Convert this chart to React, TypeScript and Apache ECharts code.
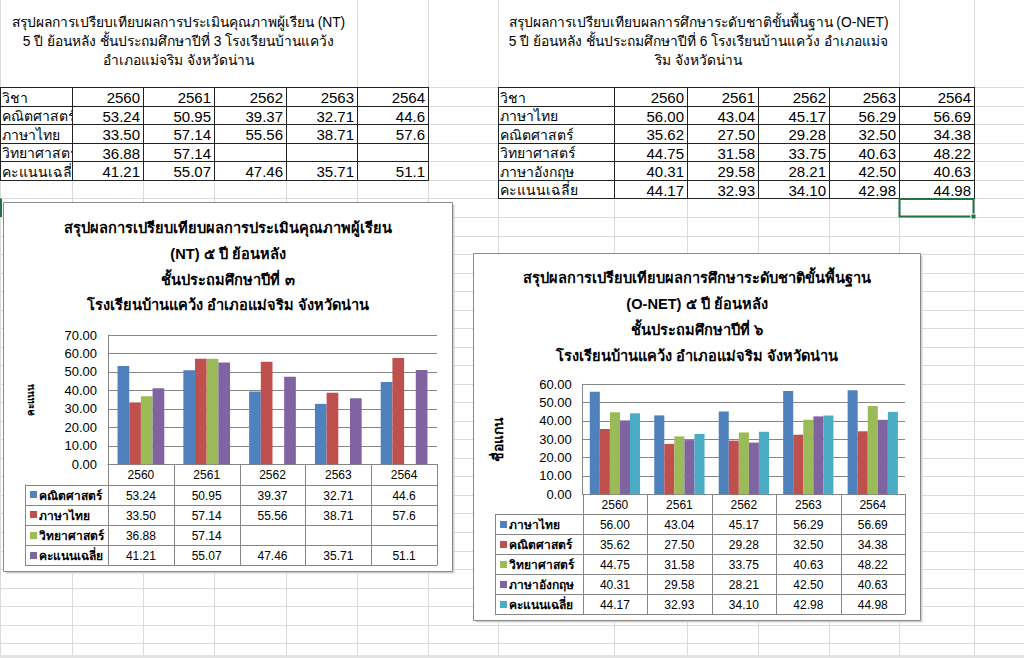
import React, { useEffect, useRef } from 'react';
import * as echarts from 'echarts';

// ---------- DATA ----------
const years = ['2560', '2561', '2562', '2563', '2564'];
const headerLabel = 'วิชา';

const ntSubjects = ['คณิตศาสตร์', 'ภาษาไทย', 'วิทยาศาสตร์', 'คะแนนเฉลี่ย'];
const ntMath = [53.24, 50.95, 39.37, 32.71, 44.6];
const ntThai = [33.5, 57.14, 55.56, 38.71, 57.6];
const ntSci = [36.88, 57.14, null, null, null];
const ntAvg = [41.21, 55.07, 47.46, 35.71, 51.1];
const ntDecimals = [2, 2, 2, 2, 1];
const ntYMax = 70;

const onetSubjects = ['ภาษาไทย', 'คณิตศาสตร์', 'วิทยาศาสตร์', 'ภาษาอังกฤษ', 'คะแนนเฉลี่ย'];
const onetThai = [56.0, 43.04, 45.17, 56.29, 56.69];
const onetMath = [35.62, 27.5, 29.28, 32.5, 34.38];
const onetSci = [44.75, 31.58, 33.75, 40.63, 48.22];
const onetEng = [40.31, 29.58, 28.21, 42.5, 40.63];
const onetAvg = [44.17, 32.93, 34.1, 42.98, 44.98];
const onetDecimals = [2, 2, 2, 2, 2];
const onetYMax = 60;
const yInterval = 10;

const sheetTitleNT = [
  'สรุปผลการเปรียบเทียบผลการประเมินคุณภาพผู้เรียน (NT)',
  '5 ปี ย้อนหลัง ชั้นประถมศึกษาปีที่ 3 โรงเรียนบ้านแคว้ง',
  'อำเภอแม่จริม จังหวัดน่าน',
];
const sheetTitleONET = [
  'สรุปผลการเปรียบเทียบผลการศึกษาระดับชาติขั้นพื้นฐาน (O-NET)',
  '5 ปี ย้อนหลัง ชั้นประถมศึกษาปีที่ 6 โรงเรียนบ้านแคว้ง อำเภอแม่จ',
  'ริม จังหวัดน่าน',
];
const chartTitleNT = [
  'สรุปผลการเปรียบเทียบผลการประเมินคุณภาพผู้เรียน',
  '(NT) ๕ ปี ย้อนหลัง',
  'ชั้นประถมศึกษาปีที่ ๓',
  'โรงเรียนบ้านแคว้ง อำเภอแม่จริม จังหวัดน่าน',
];
const chartTitleONET = [
  'สรุปผลการเปรียบเทียบผลการศึกษาระดับชาติขั้นพื้นฐาน',
  '(O-NET) ๕ ปี ย้อนหลัง',
  'ชั้นประถมศึกษาปีที่ ๖',
  'โรงเรียนบ้านแคว้ง อำเภอแม่จริม จังหวัดน่าน',
];
const ntAxisName = 'คะแนน';
const onetAxisName = 'ชื่อแกน';

// ---------- STYLE / LAYOUT ----------
const FONT = "'Liberation Sans', Tahoma, 'Noto Sans', sans-serif";
const palette = ['#4F81BD', '#C0504D', '#9BBB59', '#8064A2', '#4BACC6'];
const GRID_LINE = '#dadada';
const CHART_LINE = '#868686';
const colX = [0, 72, 143, 214, 286, 357, 428, 498, 614, 687, 758, 829, 899, 974];
const titleColX = [0, 357, 428, 498, 899, 974];
const ROW_TOP = 87.3;
const ROW_H = 18.53;

const fmt = (v: number | null, d: number) => (v == null ? '' : v.toFixed(d));
const px = (v: number) => Math.round(v) + 0.5;

function ln(x1: number, y1: number, x2: number, y2: number, stroke: string, z: number, lineWidth = 1) {
  return { type: 'line', silent: true, z, shape: { x1, y1, x2, y2 }, style: { stroke, lineWidth } };
}
function tx(x: number, y: number, text: string, o: any = {}) {
  return {
    type: 'text',
    silent: true,
    z: o.z ?? 3,
    x,
    y,
    style: {
      text,
      fill: o.fill ?? '#000',
      fontSize: o.size ?? 15,
      fontWeight: o.weight ?? 'normal',
      fontFamily: FONT,
      textAlign: o.align ?? 'left',
      textVerticalAlign: 'middle',
    },
  };
}

function sheetGraphics() {
  const els: any[] = [];
  const rowYs: number[] = [];
  for (let y = ROW_TOP; y < 656; y += ROW_H) rowYs.push(y);
  rowYs.forEach((y) => els.push(ln(0, px(y), 1024, px(y), GRID_LINE, 0)));
  colX.forEach((x) => els.push(ln(px(x), px(ROW_TOP), px(x), 655, GRID_LINE, 0)));
  titleColX.forEach((x) => els.push(ln(px(x), 0, px(x), px(ROW_TOP), GRID_LINE, 0)));
  els.push({ type: 'rect', silent: true, z: 0, shape: { x: 0, y: 655, width: 1024, height: 3 }, style: { fill: '#e3e3e3' } });

  const titles = [
    { lines: sheetTitleNT, cx: (colX[0] + colX[5]) / 2 },
    { lines: sheetTitleONET, cx: (colX[7] + colX[12]) / 2 },
  ];
  titles.forEach((t) =>
    t.lines.forEach((s, i) => els.push(tx(t.cx, 22 + i * 19, s, { align: 'center', size: 13.8 }))),
  );

  const tables = [
    { c0: 0, subjects: ntSubjects, rows: [ntMath, ntThai, ntSci, ntAvg], dec: ntDecimals },
    { c0: 7, subjects: onetSubjects, rows: [onetThai, onetMath, onetSci, onetEng, onetAvg], dec: onetDecimals },
  ];
  tables.forEach((t) => {
    const nRows = t.subjects.length + 1;
    const xs = colX.slice(t.c0, t.c0 + 7);
    // mask for column B so first-column labels are clipped at the cell edge
    els.push({
      type: 'rect', silent: true, z: 2,
      shape: { x: xs[1], y: ROW_TOP, width: xs[2] - xs[1], height: nRows * ROW_H },
      style: { fill: '#fff' },
    });
    for (let r = 0; r <= nRows; r++) {
      const y = px(ROW_TOP + r * ROW_H);
      els.push(ln(xs[0], y, xs[6] + 1, y, '#222', 2));
    }
    xs.forEach((x) => els.push(ln(px(x), px(ROW_TOP), px(x), px(ROW_TOP + nRows * ROW_H), '#222', 2)));
    const cells: string[][] = [[headerLabel, ...years]];
    t.subjects.forEach((s, i) => cells.push([s, ...t.rows[i].map((v, j) => fmt(v, t.dec[j]))]));
    cells.forEach((row, r) => {
      const yc = ROW_TOP + r * ROW_H + ROW_H / 2 + 1;
      row.forEach((c, k) => {
        if (!c) return;
        if (k === 0) els.push(tx(xs[0] + 2, yc, c, { size: 14, z: 1.5 }));
        else els.push(tx(xs[k + 1] - 3, yc, c, { align: 'right', size: 15 }));
      });
    });
  });

  const sy = ROW_TOP + 6 * ROW_H;
  els.push({
    type: 'rect', silent: true, z: 3,
    shape: { x: colX[12] + 0.5, y: sy + 0.5, width: colX[13] - colX[12] - 1, height: ROW_H - 1 },
    style: { fill: 'none', stroke: '#217346', lineWidth: 2 },
  });
  els.push({ type: 'rect', silent: true, z: 3, shape: { x: colX[13] - 3, y: sy + ROW_H - 3, width: 5, height: 5 }, style: { fill: '#217346', stroke: '#fff', lineWidth: 1 } });
  els.push(ln(1, sy, 1, sy + ROW_H, '#217346', 3, 2));
  return els;
}

type ChartCfg = {
  frame: { x: number; y: number; w: number; h: number };
  grid: { left: number; top: number; width: number; height: number };
  rowH: number;
  legendLeft: number;
  titleLines: string[];
  titleY: number[];
  titleSize: number;
  subjects: string[];
  rows: (number | null)[][];
  dec: number[];
};

const chartCfgs: ChartCfg[] = [
  {
    frame: { x: 3.5, y: 202.5, w: 449, h: 369 },
    grid: { left: 108, top: 335, width: 329, height: 129.3 },
    rowH: 20.2,
    legendLeft: 25,
    titleLines: chartTitleNT,
    titleY: [228, 254, 279.5, 305],
    titleSize: 14.6,
    subjects: ntSubjects,
    rows: [ntMath, ntThai, ntSci, ntAvg],
    dec: ntDecimals,
  },
  {
    frame: { x: 473.5, y: 253.5, w: 447, h: 367 },
    grid: { left: 582.7, top: 384.3, width: 322.3, height: 110 },
    rowH: 20,
    legendLeft: 495,
    titleLines: chartTitleONET,
    titleY: [278, 304, 330, 356],
    titleSize: 14.6,
    subjects: onetSubjects,
    rows: [onetThai, onetMath, onetSci, onetEng, onetAvg],
    dec: onetDecimals,
  },
];

function chartGraphics(c: ChartCfg) {
  const els: any[] = [];
  const f = c.frame;
  els.push({ type: 'rect', silent: true, z: 2.5, shape: { x: f.x + 2, y: f.y + 2, width: f.w, height: f.h }, style: { fill: '#d0d0d0' } });
  els.push({ type: 'rect', silent: true, z: 2.6, shape: { x: f.x, y: f.y, width: f.w, height: f.h }, style: { fill: '#fff', stroke: '#8a8a8a', lineWidth: 1 } });
  const cx = f.x + f.w / 2;
  c.titleLines.forEach((s, i) => els.push(tx(cx, c.titleY[i], s, { align: 'center', size: c.titleSize, weight: 'bold' })));

  const g = c.grid;
  const n = years.length;
  const cw = g.width / n;
  const top = g.top + g.height;
  const right = g.left + g.width;
  const nRows = c.subjects.length;
  const bottom = top + c.rowH * (nRows + 1);
  els.push(ln(g.left, px(top), right, px(top), CHART_LINE, 3));
  for (let r = 1; r <= nRows + 1; r++) {
    const y = px(top + r * c.rowH);
    els.push(ln(c.legendLeft, y, right, y, CHART_LINE, 3));
  }
  for (let k = 0; k <= n; k++) {
    const x = px(g.left + k * cw);
    els.push(ln(x, top, x, bottom, CHART_LINE, 3));
  }
  els.push(ln(px(c.legendLeft), top + c.rowH, px(c.legendLeft), bottom, CHART_LINE, 3));
  years.forEach((y, k) => els.push(tx(g.left + (k + 0.5) * cw, top + c.rowH / 2 + 1, y, { align: 'center', size: 12 })));
  c.subjects.forEach((s, r) => {
    const yc = top + (r + 1.5) * c.rowH + 1;
    els.push({ type: 'rect', silent: true, z: 3, shape: { x: c.legendLeft + 5, y: Math.round(yc - 4.5), width: 7, height: 7 }, style: { fill: palette[r] } });
    els.push(tx(c.legendLeft + 14, yc, s, { size: 12, weight: 'bold' }));
    c.rows[r].forEach((v, k) => {
      const t = fmt(v, c.dec[k]);
      if (t) els.push(tx(g.left + (k + 0.5) * cw, yc, t, { align: 'center', size: 12 }));
    });
  });
  return els;
}

function buildOption() {
  const axisNames = [ntAxisName, onetAxisName];
  const maxes = [ntYMax, onetYMax];
  const nameGaps = [73, 78];
  const nameSizes = [10, 14];
  const gaps = ['29%', '22%'];
  return {
    animation: false,
    backgroundColor: '#fff',
    graphic: { elements: [...sheetGraphics(), ...chartCfgs.flatMap(chartGraphics)] },
    grid: chartCfgs.map((c) => ({ ...c.grid, show: false, containLabel: false })),
    xAxis: chartCfgs.map((c, i) => ({
      gridIndex: i,
      type: 'category',
      data: years,
      z: 4,
      axisLabel: { show: false },
      axisTick: { show: false },
      axisLine: { show: true, lineStyle: { color: CHART_LINE } },
    })),
    yAxis: chartCfgs.map((c, i) => ({
      gridIndex: i,
      type: 'value',
      min: 0,
      max: maxes[i],
      interval: yInterval,
      z: 4,
      name: axisNames[i],
      nameLocation: 'middle',
      nameRotate: 90,
      nameGap: nameGaps[i],
      nameTextStyle: { fontWeight: 'bold', fontSize: nameSizes[i], color: '#000', fontFamily: FONT },
      axisLabel: { formatter: (v: number) => v.toFixed(2), color: '#000', fontSize: 13, fontFamily: FONT, margin: 11 },
      axisTick: { show: false },
      axisLine: { show: true, lineStyle: { color: CHART_LINE } },
      splitLine: { show: true, lineStyle: { color: CHART_LINE } },
    })),
    series: chartCfgs.flatMap((c, i) =>
      c.subjects.map((s, r) => ({
        name: s,
        type: 'bar',
        xAxisIndex: i,
        yAxisIndex: i,
        z: 5,
        barGap: '0%',
        barCategoryGap: gaps[i],
        itemStyle: { color: palette[r] },
        data: c.rows[r],
      })),
    ),
  };
}

export default function App() {
  const ref = useRef<HTMLDivElement>(null);
  useEffect(() => {
    document.body.style.margin = '0';
    if (!ref.current) return;
    const chart = echarts.init(ref.current, undefined, { renderer: 'svg' });
    chart.setOption(buildOption() as any);
    return () => chart.dispose();
  }, []);
  return <div ref={ref} style={{ width: 1024, height: 658 }} />;
}
